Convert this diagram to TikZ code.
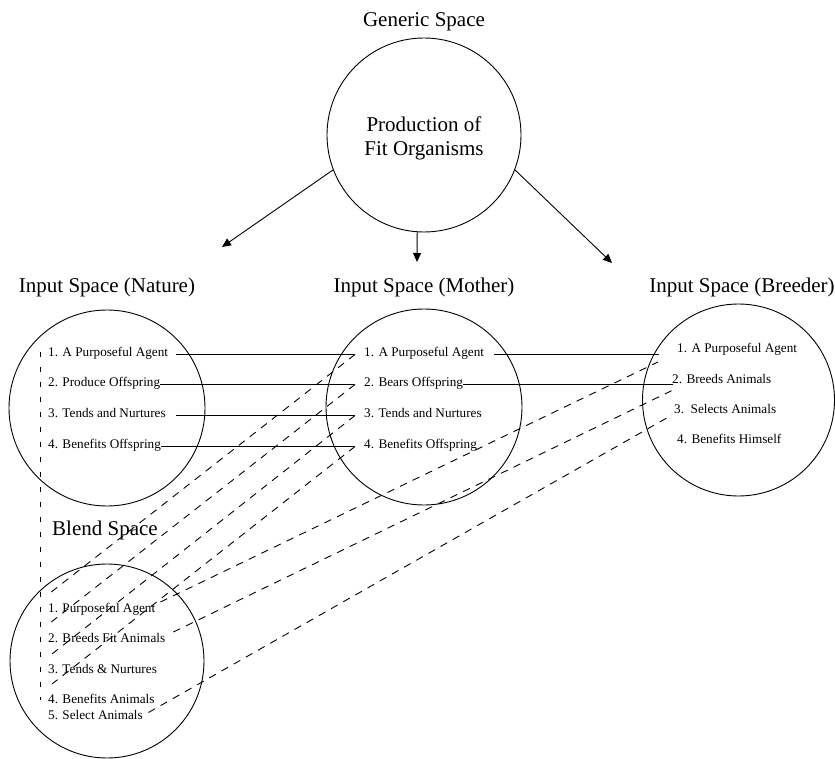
\documentclass[tikz,border=0pt]{standalone}
\usepackage{fontspec}
\setmainfont{Liberation Serif}
\usetikzlibrary{arrows.meta}
\begin{document}
\begin{tikzpicture}[x=1pt,y=-1pt,
  ring/.style={circle,draw,line width=0.9pt,inner sep=0pt},
  big/.style={font=\fontsize{21}{24}\selectfont,inner sep=0pt,align=center},
  item/.style={font=\fontsize{13.2}{15}\selectfont,inner sep=0pt,anchor=base west},
  link/.style={line width=0.9pt},
  dlink/.style={line width=0.9pt,dash pattern=on 7.5pt off 6.5pt},
  vlink/.style={line width=0.9pt,dash pattern=on 5pt off 10pt},
  arr/.style={line width=0.9pt,-{Triangle[length=9pt,width=8pt]}}]
\useasboundingbox (0,0) rectangle (835,759);

% Generic space
\node[big] (gl) at (424,22) {Generic Space};
\node[ring,minimum size=194pt] (gen) at (424,135) {};
\node[big] (gtxt) at (424,138) {Production of\\Fit Organisms};

\coordinate (tN) at (222,247);
\coordinate (tM) at (417,262);
\coordinate (tB) at (612,263);
\draw[arr] (gen.201) -- (tN);
\draw[arr] (gen.266) -- (tM);
\draw[arr] (gen.339) -- (tB);

% Input space labels
\node[big] (lN) at (107,287) {Input Space (Nature)};
\node[big] (lM) at (424,287) {Input Space (Mother)};
\node[big] (lB) at (742,287) {Input Space (Breeder)};
\node[big] (lX) at (105,530) {Blend Space};

% Circles
\node[ring,minimum size=196pt] (cN) at (107,408) {};
\node[ring,minimum size=196pt] (cM) at (424,407) {};
\node[ring,minimum size=192pt] (cB) at (738.5,400) {};
\node[ring,minimum size=194pt] (cX) at (107,661) {};

% Items
\node[item] (n1) at (48,356) {1. A Purposeful Agent};
\node[item] (n2) at (48,386) {2. Produce Offspring};
\node[item] (n3) at (48,417) {3. Tends and Nurtures};
\node[item] (n4) at (48,448) {4. Benefits Offspring};

\node[item] (m1) at (364,356) {1. A Purposeful Agent};
\node[item] (m2) at (364,386) {2. Bears Offspring};
\node[item] (m3) at (364,417) {3. Tends and Nurtures};
\node[item] (m4) at (364,448) {4. Benefits Offspring};

\node[item] (b1) at (677,352) {1. A Purposeful Agent};
\node[item] (b2) at (672,383) {2. Breeds Animals};
\node[item] (b3) at (674,413) {3.\ \ Selects Animals};
\node[item] (b4) at (677,443) {4. Benefits Himself};

\node[item] (x1) at (48,612) {1. Purposeful Agent};
\node[item] (x2) at (48,642) {2. Breeds Fit Animals};
\node[item] (x3) at (48,673) {3. Tends \& Nurtures};
\node[item] (x4) at (48,703) {4. Benefits Animals};
\node[item] (x5) at (48,719) {5. Select Animals};

% Solid links nature -> mother
\draw[link] ([xshift=8pt,yshift=1.5pt]n1.base east) -- ([xshift=-9pt,yshift=1.5pt]m1.base west);
\draw[link] ([yshift=1.5pt]n2.base east) -- ([xshift=-9pt,yshift=1.5pt]m2.base west);
\draw[link] ([xshift=10pt,yshift=1.5pt]n3.base east) -- ([xshift=-9pt,yshift=1.5pt]m3.base west);
\draw[link] ([yshift=1.5pt]n4.base east) -- ([xshift=-9pt,yshift=1.5pt]m4.base west);

% Solid links mother -> breeder
\path ([xshift=-18pt]b1.base west) coordinate (e1);
\path ([xshift=1pt]b2.base west) coordinate (e2);
\draw[link] ([xshift=10pt,yshift=1.5pt]m1.base east) coordinate (s1) -- (s1 -| e1);
\draw[link] ([yshift=1.5pt]m2.base east) coordinate (s2) -- (s2 -| e2);

% Dashed links mother -> blend
\draw[dlink] ([xshift=-9pt,yshift=1.5pt]m1.base west) -- ([xshift=2pt,yshift=19pt]x1.base west);
\draw[dlink] ([xshift=-9pt,yshift=1.5pt]m2.base west) -- ([xshift=2pt,yshift=19pt]x2.base west);
\draw[dlink] ([xshift=-9pt,yshift=1.5pt]m3.base west) -- ([xshift=4pt,yshift=19pt]x3.base west);
\draw[dlink] ([xshift=-9pt,yshift=1.5pt]m4.base west) -- ([xshift=4pt,yshift=19pt]x4.base west);

% Dashed links blend -> breeder
\draw[dlink] ([xshift=5pt,yshift=10pt]x1.base east) -- ([xshift=-19pt,yshift=-10pt]b1.base west);
\draw[dlink] ([xshift=8pt,yshift=10pt]x2.base east) -- ([xshift=1pt,yshift=-7pt]b2.base west);
\draw[dlink] ([xshift=5.5pt,yshift=6.5pt]x5.base east) -- ([xshift=-2pt,yshift=-2pt]b3.base west);

% Vertical dashed link nature -> blend
\draw[vlink] ([xshift=-8pt,yshift=4pt]n1.base west) -- ([xshift=-8pt,yshift=3pt]x4.base west);
\end{tikzpicture}
\end{document}
